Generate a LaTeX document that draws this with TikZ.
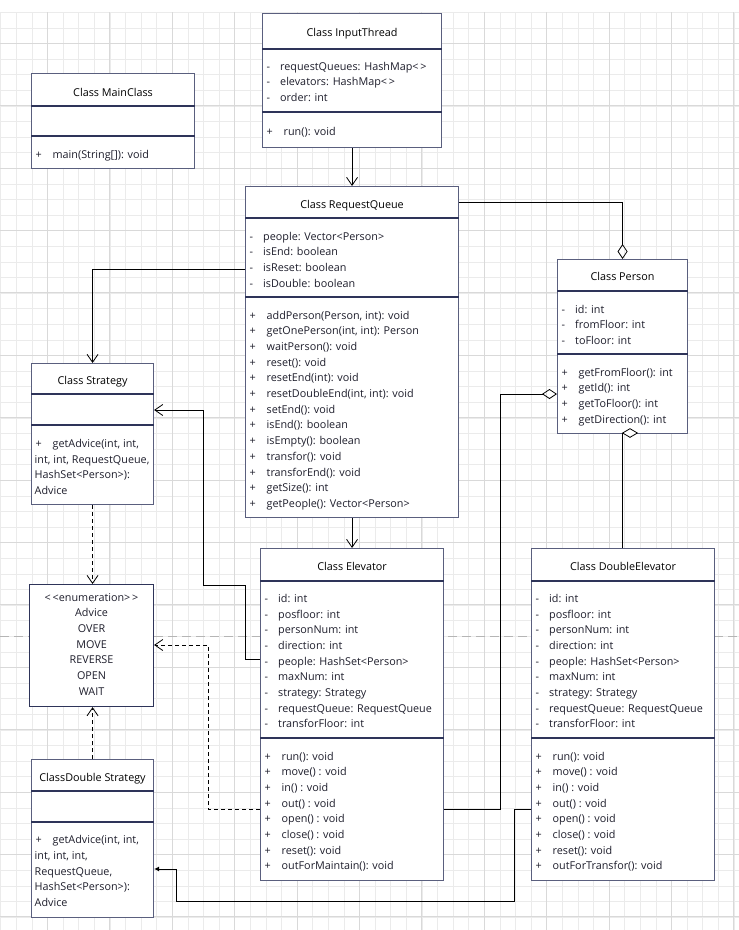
\documentclass[tikz,border=0pt]{standalone}
\usepackage{fontspec}
\setmainfont{Open Sans}
\usetikzlibrary{arrows.meta,shapes.geometric}

\definecolor{boxline}{HTML}{5A5F7E}
\definecolor{sepline}{HTML}{2E3459}
\definecolor{ink}{HTML}{1E1E2C}
\definecolor{gridminor}{HTML}{EBEBEB}
\definecolor{gridmajor}{HTML}{D9D9D9}
\definecolor{pagebreak}{HTML}{B5B5B5}

\newcommand{\memfont}{\fontsize{10.8}{12}\selectfont}

% attribute rows: box name, left x, first y, list
\newcommand{\attrs}[4]{%
  \foreach \t [count=\k] in {#4}{
    \node[mem] (#1-s\k) at (#2+4.5, #3+15.67*\k-15.67) {-};
    \node[mem] (#1-a\k) at (#2+18, #3+15.67*\k-15.67) {\t};}}
% operation rows
\newcommand{\ops}[4]{%
  \foreach \t [count=\k] in {#4}{
    \node[mem] (#1-p\k) at (#2+4.5, #3+15.67*\k-15.67) {+};
    \node[mem] (#1-m\k) at (#2+21.5, #3+15.67*\k-15.67) {\t};}}

\tikzset{
  cls/.style={draw=boxline, fill=white, line width=1.1pt, inner sep=0pt, anchor=north west},
  enumbox/.style={cls, draw=sepline},
  sep/.style={draw=sepline, line width=1.1pt},
  mem/.style={anchor=west, inner sep=0pt, text height=10pt, text depth=0pt, text=ink, font=\memfont},
  ttl/.style={mem, anchor=center, text=black},
  link/.style={line width=0.9pt, draw=black},
  assoc/.style={link, -{Straight Barb[length=8pt,width=11pt,line width=0.8pt]}},
  dep/.style={assoc, dash pattern=on 4pt off 3pt},
  agg/.style={link, -{Diamond[open,length=15pt,width=10pt,line width=0.8pt]}},
  comp/.style={link, -{Latex[length=5pt,width=5pt]}},
}

\begin{document}
\begin{tikzpicture}[x=1pt,y=-1pt]
\useasboundingbox (0,0) rectangle (739,930);

% grid
\foreach \i in {0,...,47} \draw[gridminor, line width=0.8pt] (0.7+15.6*\i,12.3) -- (0.7+15.6*\i,930);
\foreach \j in {0,...,58} \draw[gridminor, line width=0.8pt] (0,12.3+15.6*\j) -- (739,12.3+15.6*\j);
\foreach \i in {0,...,11} \draw[gridmajor, line width=1pt] (47.5+62.4*\i,12.3) -- (47.5+62.4*\i,930);
\foreach \j in {0,...,14} \draw[gridmajor, line width=1pt] (0,43.3+62.4*\j) -- (739,43.3+62.4*\j);
\draw[pagebreak, line width=1pt, dash pattern=on 9pt off 5pt] (0,636.5) -- (739,636.5);

% MainClass
\node[cls, minimum width=163pt, minimum height=95pt] (main) at (31,73) {};
\draw[sep] (main.west |- 0,106) -- (main.east |- 0,106);
\draw[sep] (main.west |- 0,136) -- (main.east |- 0,136);
\node[ttl] (main-t) at (main.north |- 0,91) {Class MainClass};
\ops{main}{31}{153}{{main(String[]): void}}

% InputThread
\node[cls, minimum width=179pt, minimum height=134pt] (it) at (262,13) {};
\draw[sep] (it.west |- 0,49) -- (it.east |- 0,49);
\draw[sep] (it.west |- 0,112) -- (it.east |- 0,112);
\node[ttl] (it-t) at (it.north |- 0,31) {Class InputThread};
\attrs{it}{262}{65}{requestQueues: HashMap<\,>, elevators: HashMap<\,>, order: int}
\ops{it}{262}{130}{run(): void}

% RequestQueue
\node[cls, minimum width=213pt, minimum height=331pt] (rq) at (245,186) {};
\draw[sep] (rq.west |- 0,218) -- (rq.east |- 0,218);
\draw[sep] (rq.west |- 0,297) -- (rq.east |- 0,297);
\node[ttl] (rq-t) at (rq.north |- 0,203) {Class RequestQueue};
\attrs{rq}{245}{235}{people: Vector<Person>, isEnd: boolean, isReset: boolean, isDouble: boolean}
\ops{rq}{245}{314.3}{{addPerson(Person, int): void}, {getOnePerson(int, int): Person}, waitPerson(): void,
  reset(): void, resetEnd(int): void, {resetDoubleEnd(int, int): void}, setEnd(): void, isEnd(): boolean,
  isEmpty(): boolean, transfor(): void, transforEnd(): void, getSize(): int, getPeople(): Vector<Person>}

% Person
\node[cls, minimum width=130pt, minimum height=174pt] (per) at (557,259) {};
\draw[sep] (per.west |- 0,291) -- (per.east |- 0,291);
\draw[sep] (per.west |- 0,354) -- (per.east |- 0,354);
\node[ttl] (per-t) at (per.north |- 0,275) {Class Person};
\attrs{per}{557}{308}{id: int, fromFloor: int, toFloor: int}
\ops{per}{557}{371}{getFromFloor(): int, getId(): int, getToFloor(): int, getDirection(): int}

% Strategy
\node[cls, minimum width=122pt, minimum height=141pt] (st) at (31,363) {};
\draw[sep] (st.west |- 0,394) -- (st.east |- 0,394);
\draw[sep] (st.west |- 0,425) -- (st.east |- 0,425);
\node[ttl] (st-t) at (st.north |- 0,379) {Class Strategy};
\node[mem] (st-p1) at (35.5,442) {+};
\node[mem] (st-m1) at (52.5,442) {getAdvice(int, int,};
\node[mem] (st-m2) at (34.5,458) {int, int, RequestQueue,};
\node[mem] (st-m3) at (34.5,473.3) {HashSet<Person>):};
\node[mem] (st-m4) at (34.5,489) {Advice};

% Advice enumeration
\node[enumbox, minimum width=124pt, minimum height=122pt] (en) at (29,584) {};
\foreach \t [count=\k] in {<\,<enumeration>\,>, Advice, OVER, MOVE, REVERSE, OPEN, WAIT}
  \node[ttl, text=ink] (en-\k) at (en.north |- 0,596+15.67*\k-15.67) {\t};

% DoubleStrategy
\node[cls, minimum width=122pt, minimum height=158pt] (dst) at (31,759) {};
\draw[sep] (dst.west |- 0,791) -- (dst.east |- 0,791);
\draw[sep] (dst.west |- 0,822) -- (dst.east |- 0,822);
\node[ttl] (dst-t) at (dst.north |- 0,776) {ClassDouble Strategy};
\node[mem] (dst-p1) at (35.5,838) {+};
\node[mem] (dst-m1) at (52.5,838) {getAdvice(int, int,};
\node[mem] (dst-m2) at (34.5,854) {int, int, int,};
\node[mem] (dst-m3) at (34.5,870) {RequestQueue,};
\node[mem] (dst-m4) at (34.5,885.7) {HashSet<Person>):};
\node[mem] (dst-m5) at (34.5,901) {Advice};

% Elevator
\node[cls, minimum width=183pt, minimum height=332pt] (el) at (260,548) {};
\draw[sep] (el.west |- 0,581) -- (el.east |- 0,581);
\draw[sep] (el.west |- 0,738) -- (el.east |- 0,738);
\node[ttl] (el-t) at (el.north |- 0,565) {Class Elevator};
\attrs{el}{260}{597.5}{id: int, posfloor: int, personNum: int, direction: int, people: HashSet<Person>,
  maxNum: int, strategy: Strategy, requestQueue: RequestQueue, transforFloor: int}
\ops{el}{260}{755}{run(): void, move() : void, in() : void, out() : void, open() : void,
  close() : void, reset(): void, outForMaintain(): void}

% DoubleElevator
\node[cls, minimum width=183pt, minimum height=332pt] (del) at (531,548) {};
\draw[sep] (del.west |- 0,581) -- (del.east |- 0,581);
\draw[sep] (del.west |- 0,738) -- (del.east |- 0,738);
\node[ttl] (del-t) at (del.north |- 0,565) {Class DoubleElevator};
\attrs{del}{531}{597.5}{id: int, posfloor: int, personNum: int, direction: int, people: HashSet<Person>,
  maxNum: int, strategy: Strategy, requestQueue: RequestQueue, transforFloor: int}
\ops{del}{531}{755}{run(): void, move() : void, in() : void, out() : void, open() : void,
  close() : void, reset(): void, outForTransfor(): void}

% connectors
\draw[assoc] (it.south) -- (rq.north);
\draw[assoc] (rq.south) -- (el.north);
\draw[assoc] (rq.west |- 0,269) -| (st.north);
\draw[agg] (rq.east |- 0,202) -| (per.north);
\draw[dep] (st.south) -- (st.south |- en.north);
\draw[dep] (dst.north) -- (dst.north |- en.south);
\draw[assoc] (el.west |- 0,659) -- (245,659) |- (203,585) |- (st.east |- 0,410);
\draw[dep] (el.west |- 0,809) -| (208,645) -- (en.east |- 0,645);
\draw[agg] (el.east |- 0,809) -| (500,394) -- (per.west |- 0,394);
\node[diamond, draw=black, fill=white, line width=0.8pt, aspect=1.6, minimum width=15pt, minimum height=9pt, inner sep=0pt] (pd) at (630,433) {};
\draw[link] (pd.west) -- (pd.west |- del.north);
\draw[comp] (del.west |- 0,809) -- (514,809) |- (176,901) |- (dst.east |- 0,869);
\end{tikzpicture}
\end{document}
